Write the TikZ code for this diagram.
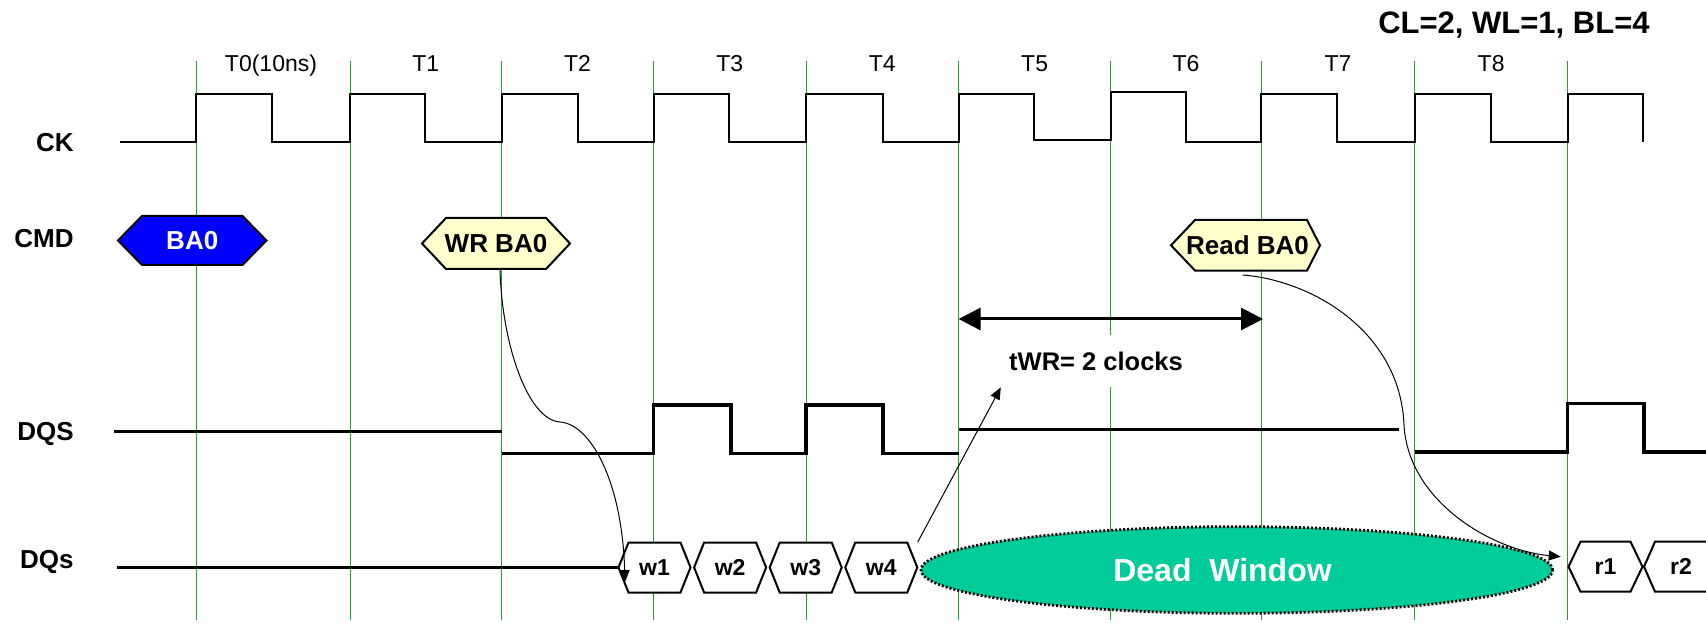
\documentclass[tikz,border=0pt]{standalone}
\usepackage{fontspec}
\setmainfont{Liberation Sans}
\usetikzlibrary{arrows.meta,shapes.geometric}
\definecolor{gridgreen}{RGB}{40,160,40}
\definecolor{cmdblue}{RGB}{0,0,255}
\definecolor{cmdyellow}{RGB}{255,255,204}
\definecolor{deadteal}{RGB}{0,204,153}
% #1 name, #2 cx, #3 cy, #4 half width, #5 half height, #6 left depth, #7 right depth, #8 style, #9 text
\newcommand{\hexnode}[9]{%
  \draw[hexline,#8] (#2-#4,#3) -- (#2-#4+#6,#3-#5) -- (#2+#4-#7,#3-#5) -- (#2+#4,#3)
    -- (#2+#4-#7,#3+#5) -- (#2-#4+#6,#3+#5) -- cycle;
  \node[hextext,#8,draw=none,fill=none,minimum width=#4pt,minimum height=#5pt] (#1) at (#2,#3) {#9};}
\begin{document}
\begin{tikzpicture}[x=0.5pt,y=-0.5pt,
  gridline/.style={draw=gridgreen,line width=0.5pt},
  ckwave/.style={line width=1pt,line join=miter},
  dqswave/.style={line width=1.6pt},
  signame/.style={font=\bfseries\fontsize{13}{15}\selectfont,anchor=base east,inner sep=0},
  tlabel/.style={font=\fontsize{11.5}{13}\selectfont,anchor=base,inner sep=0},
  hexline/.style={draw=black,line width=1pt,line join=miter},
  hextext/.style={inner sep=0,font=\bfseries\fontsize{13}{15}\selectfont},
  smalltext/.style={font=\bfseries\fontsize{11.5}{13}\selectfont},
  conn/.style={line width=0.5pt,-{Triangle[length=6pt,width=5pt]}},
  span/.style={line width=1.5pt,{Triangle[length=11pt,width=11pt]}-{Triangle[length=11pt,width=11pt]}}
]
\useasboundingbox (0,0) rectangle (1706,624);
\fill[white] (0,0) rectangle (1706,624);

% clock grid lines
\foreach \gx in {196,350,501.5,653.5,806,958.6,1110.6,1261.4,1414.7,1567.5}
  \draw[gridline] (\gx,61) -- (\gx,620);

% title
\node[font=\bfseries\fontsize{15.5}{18}\selectfont,anchor=base east,inner sep=0] (cfg) at (1650,33.3) {CL=2, WL=1, BL=4};

% clock labels
\node[tlabel] (t0) at (271,71.7) {T0(10ns)};
\node[tlabel] (t1) at (425.75,71.7) {T1};
\node[tlabel] (t2) at (577.5,71.7) {T2};
\node[tlabel] (t3) at (729.75,71.7) {T3};
\node[tlabel] (t4) at (882.3,71.7) {T4};
\node[tlabel] (t5) at (1034.6,71.7) {T5};
\node[tlabel] (t6) at (1186,71.7) {T6};
\node[tlabel] (t7) at (1338,71.7) {T7};
\node[tlabel] (t8) at (1491.1,71.7) {T8};

% signal names
\node[signame] (ck) at (74,151.7) {CK};
\node[signame] (cmd) at (74,248) {CMD};
\node[signame] (dqs) at (74,440.7) {DQS};
\node[signame] (dq) at (74,568) {DQs};

% CK waveform
\draw[ckwave] (120,141.7) -| (196,94) -| (272,141.7) -| (350,94) -| (425,141.7)
  -| (501.5,94) -| (577.6,141.7) -| (653.5,94) -| (728.9,141.7) -| (806,94)
  -| (882.9,141.7) -| (958.6,94) -| (1033.6,140) -| (1110.6,92.5) -| (1185.7,141.7)
  -| (1261.4,94) -| (1337,141.7) -| (1414.7,94) -| (1490.5,141.7) -| (1567.5,94)
  -| (1643,141.7);

% DQS waveform
\draw[dqswave] (114,431.7) -- (501.5,431.7);
\draw[dqswave] (501.5,453.3) -| (653.5,405) -| (731,453.3) -| (806,405) -| (883,453.3) -- (958.6,453.3);
\draw[dqswave] (958.6,429.3) -- (1398.6,429.3);
\draw[dqswave] (1414.7,452) -| (1567.5,403.3) -| (1644,452) -- (1706,452);

% commands
\hexnode{ba}{192.25}{240.5}{74.25}{24.5}{24}{24}{fill=cmdblue,text=white}{BA0}
\hexnode{wr}{496}{243.5}{74}{25.5}{24}{24}{fill=cmdyellow}{WR BA0}
\hexnode{rd}{1245.5}{245.3}{74.5}{25.3}{24}{13}{fill=cmdyellow}{Read BA0\hspace*{-2pt}}

% data
\hexnode{w1}{654.5}{567.5}{36}{25}{10}{10}{fill=white,smalltext}{w1}
\hexnode{w2}{730.1}{567.5}{36}{25}{10}{10}{fill=white,smalltext}{w2}
\hexnode{w3}{805.7}{567.5}{36}{25}{10}{10}{fill=white,smalltext}{w3}
\hexnode{w4}{881.3}{567.5}{36}{25}{10}{10}{fill=white,smalltext}{w4}
\hexnode{r1}{1605.5}{566.7}{37}{25}{12}{12}{fill=white,smalltext}{r1}
\hexnode{r2}{1681}{566.7}{37}{25}{11}{11}{fill=white,smalltext}{r2}

\draw[dqswave] (117,567.5) -- (w1.west);

% dead window
\node[ellipse,fill=deadteal,draw=black,line width=1.4pt,dash pattern=on 1pt off 1pt,
  minimum width=315.8pt,minimum height=43.3pt,inner sep=0,text=white,
  font=\bfseries\fontsize{16}{18}\selectfont] (dead) at (1236.8,570) {Dead\ \ Window\hspace*{14.3pt}};

% tWR
\node[fill=white,inner xsep=4pt,inner ysep=0,minimum height=26pt,
  font=\bfseries\fontsize{12.75}{15}\selectfont] (twr) at (1096,361) {tWR= 2 clocks};
\coordinate (twrL) at (958.6,319);
\coordinate (twrR) at (1263,319);
\draw[span] (twrL) -- (twrR);

% connectors
\coordinate (w1in) at (625,582);
\coordinate (r1in) at (1560.7,556.7);
\draw[conn] ([xshift=2pt]wr.south) .. controls (502,345) and (528,420) .. (560,422)
  .. controls (590,424) and (622,480) .. (w1in);
\draw[conn] ([xshift=-1.5pt,yshift=-2pt]rd.south) .. controls (1310,280) and (1400,330) .. (1404,425)
  .. controls (1408,500) and (1490,550) .. (r1in);
\draw[conn] (w4.north east) -- (twr.south west);
\end{tikzpicture}
\end{document}
